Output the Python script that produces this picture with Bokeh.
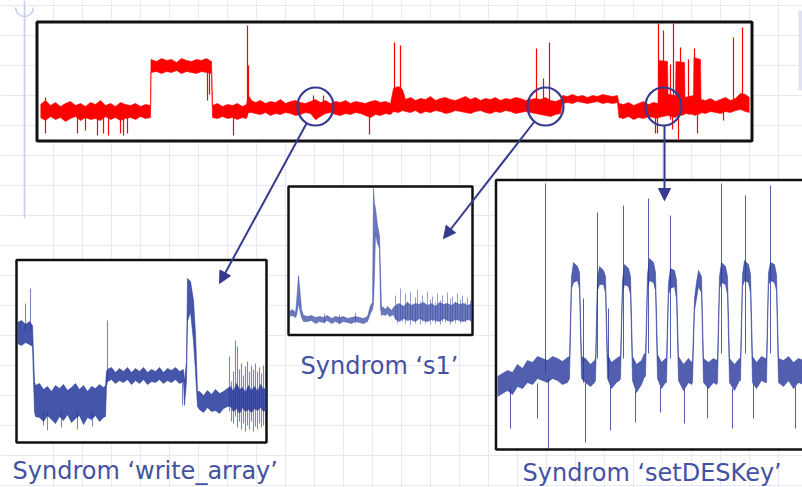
from bokeh.plotting import figure
from bokeh.models import Range1d, Arrow, NormalHead, Grid, FixedTicker
from bokeh.embed import file_html
from bokeh.resources import INLINE
from bokeh.core.properties import value

# ---------------- data (time in samples, level in arbitrary units) ----------------
# Overview trace (red) : noisy band envelope + isolated spikes
ov_t = [0,5,10,15,20,25,30,35,40,45,50,55,60,65,70,75,80,85,90,95,100,105,110,
        110.5,116,121,126,131,136,141,146,151,156,161,166,171,
        172,177,182,187,192,197,202,206, 208,211,
        215,220,225,230,235,240,245,250,255,260,265,270,275,280,285,290,295,300,305,310,315,320,325,330,335,340,345,350,
        353,358,362,
        365,370,375,380,385,390,395,400,405,410,415,420,425,430,435,440,445,450,455,460,465,470,475,480,485,490,
        495,500,505,510,515,520,
        522,527,532,537,542,547,552,557,562,567,572,577,
        578.5,583,588,593,598,603,608,613,617.5,
        618,627,627.5,635,635.5,644,644.5,653,653.5,660,
        660.5,665,670,675,680,685,690,695,700,705,709]
ov_hi = [35,39,34,37,33,36,38,34,36,33,37,35,39,34,36,33,37,35,34,36,33,35,34,
         80,78,81,79,80,77,81,79,78,80,79,81,78,
         34,36,33,35,34,36,33,35, 44,39,
         37,39,36,38,37,40,36,38,39,37,36,38,40,37,39,36,38,37,39,36,38,37,36,38,39,37,38,36,
         51,53,50,
         40,42,39,41,40,43,39,41,42,40,39,41,43,40,42,39,41,40,42,39,41,40,42,41,39,40,
         41,40,42,39,38,40,
         44,43,45,43,44,42,44,43,45,44,43,44,
         36,35,37,34,36,38,35,37,36,
         79,78,45,44,78,77,42,44,82,80,
         40,39,41,38,40,42,39,41,46,45,42]
ov_lo = [22,19,23,20,22,18,21,23,19,22,20,21,19,23,20,22,19,21,22,20,23,21,22,
         67,68,66,68,67,69,66,68,67,66,68,67,66,
         22,21,23,21,22,20,22,21, 27,27,
         26,25,27,24,26,25,27,26,24,25,27,26,20,23,26,27,25,24,26,25,27,26,24,22,25,24,26,25,
         28,27,29,
         28,27,29,26,28,27,29,28,26,27,29,28,27,26,28,29,27,26,28,27,29,28,26,27,28,27,
         26,25,24,23,25,26,
         36,37,36,38,37,36,37,38,36,37,36,37,
         22,21,23,20,22,21,23,22,21,
         22,24,24,22,23,25,26,25,24,26,
         27,26,28,27,26,28,27,29,30,28,27]
ov_spk_t  = [5,207,208,273,283,354,360,496,503,509,618,623,633,640,654,693,702,621,630,648,
             5,37,45,57,63,68,80,83,87,167,169,193,276,329,615,617,632,638,657,683]
ov_spk_lo = [30,30,30,32,32,40,40,36,36,36,60,60,40,60,60,40,40,30,20,25,
             6,6,9,4,6,4,6,4,6,39,45,4,20,5,6,6,10,0,6,19]
ov_spk_hi = [42,114,74,44,44,97,94,91,61,97,116,109,116,92,91,102,112,70,75,80,
             28,28,28,28,28,28,28,28,28,72,72,28,30,30,28,28,28,28,28,30]

# Syndrom 'write_array'
wa_t  = [0,4,8,12,15,17,18,22,26,30,34,38,42,46,50,54,58,62,66,70,74,78,82,86,88,89,
         90,94,98,102,106,110,114,118,122,126,130,134,138,142,146,150,154,158,162,166,
         167,169,170,173,176,178,180,182,186,190,194,198,202,206,210,
         213,216,219,222,225,228,231,234,237,240,243,246,249]
wa_hi = [119,121,117,120,116,60,56,58,52,55,50,56,53,57,51,54,58,52,56,50,55,53,57,54,56,70,
         72,74,69,73,70,74,69,73,70,74,69,72,70,74,69,73,71,74,70,72,
         60,80,163,160,141,108,50,50,46,51,47,52,48,50,53,
         55,50,58,52,54,49,56,51,55,50,57,52,54]
wa_lo = [98,96,99,97,95,30,25,24,20,26,22,18,25,21,27,19,23,26,17,24,22,26,20,24,25,55,
         60,62,58,61,59,62,57,61,58,62,57,60,59,62,58,61,59,62,58,60,
         36,60,120,130,100,70,35,32,29,34,30,31,28,33,35,
         35,30,33,28,34,30,32,29,33,31,34,30,32]
wa_spk_t  = [8,13,90,165,26,30,44,60,75,212,214,216,218,220,222,224,226,228,230,232,234,236,238,240,242,244,246,248]
wa_spk_lo = [110,110,60,36,16,11,14,12,15,30,20,18,25,14,20,12,18,10,16,12,20,10,15,12,18,14,16,20]
wa_spk_hi = [138,153,121,62,30,30,30,30,30,85,60,70,101,95,72,78,66,75,80,70,76,72,78,70,74,68,76,70]

# Syndrom 's1'
s1_t  = [0,3,6,7,9,10,12,14,18,22,26,30,34,38,42,46,50,54,58,62,66,70,74,78,
         81,83,84,85,86,88,90,91,92,94,96,98,100,102,104,
         106,110,114,118,122,126,130,134,138,142,146,150,154,158,162,166,170,174,178,182]
s1_hi = [22,24,21,30,58,48,24,18,17,18,16,17,16,18,15,17,16,17,15,16,17,16,15,17,
         28,31,145,130,125,108,98,60,27,26,24,27,25,23,26,
         28,30,27,31,28,30,29,31,28,30,27,31,29,30,28,31,29,30,28,30]
s1_lo = [17,18,16,18,30,25,16,12,12,13,10,12,11,13,10,12,10,12,11,10,12,11,10,12,
         20,24,30,60,100,90,85,25,18,19,18,20,17,18,19,
         14,12,15,13,14,12,15,13,12,14,13,12,15,13,12,14,13,12,14,13]
s1_spk_t  = [106,108,111,113,116,118,121,123,126,128,131,133,136,138,141,143,146,148,151,153,
             156,158,161,163,166,168,171,173,176,178,181,35,50,66]
s1_spk_lo = [15,10,14,12,10,15,8,12,10,14,9,12,10,13,9,12,10,14,9,12,
             11,13,9,12,10,14,10,12,11,13,12,10,9,10]
s1_spk_hi = [38,30,45,28,40,32,42,30,36,44,32,38,30,42,34,37,31,40,33,38,
             30,41,35,37,32,40,34,38,31,36,33,20,19,21]

# Syndrom 'setDESKey'
dk_t  = [0,5,10,15,20,25,30,35,40,45,50,55,60,65,70,
         72,74,76,80,82,84, 88,93,97,
         98,100,102,106,108,110, 114,119,122,
         123,125,127,131,133,135, 139,144,147,
         148,150,152,156,158,160, 164,168,
         169,171,173,177,179,181, 186,191,194,
         195,197,199,201,204,206, 211,216,219,
         220,222,224,228,230,232, 237,242,
         243,245,247,251,253,255, 259,264,268,
         269,271,273,277,279,281, 286,291,296,301,306]
dk_hi = [72,75,78,76,84,80,88,86,92,90,88,92,90,87,91,
         92,172,186,182,176,92, 90,84,88,
         90,170,182,178,172,94, 86,90,92,
         92,168,184,180,172,92, 84,88,95,
         94,174,190,186,176,94, 86,90,
         90,166,180,178,168,92, 84,90,86,
         88,150,166,178,172,90, 86,90,88,
         90,172,186,182,172,90, 84,90,
         90,174,188,184,174,92, 86,92,90,
         90,176,186,184,174,90, 88,92,86,90,88]
dk_lo = [52,55,58,54,62,60,66,64,70,68,66,70,68,64,66,
         70,160,166,168,160,70, 66,62,66,
         68,158,164,164,156,70, 60,66,68,
         70,156,164,162,154,68, 56,64,72,
         72,160,168,166,158,70, 60,66,
         66,154,160,162,150,68, 58,66,64,
         66,138,150,162,156,66, 60,66,64,
         66,160,166,164,154,66, 58,68,
         68,162,168,166,156,66, 60,68,66,
         66,164,168,166,158,66, 62,68,60,66,64]
dk_spk_t  = [48,100,126,151,173,224,248,273, 13,40,51,88,113,138,163,187,210,235,256,298, 86,111]
dk_spk_lo = [75,90,90,95,90,95,95,95, 20,30,0,6,18,26,36,25,30,20,30,20, 66,70]
dk_spk_hi = [265,236,243,250,233,265,253,263, 60,65,70,66,62,58,62,60,62,60,66,62, 150,140]

titles = ["Syndrom \u2018write_array\u2019", "Syndrom \u2018s1\u2019", "Syndrom \u2018setDESKey\u2019"]

# ---------------- layout / style ----------------
W, H = 802, 487
X0, Y0 = 0, 0
RED = "#ff0000"
NAVY = "#25379a"
ACC = "#363b8e"
TXT = "#4551a2"

p = figure(width=W, height=H, output_backend="svg", toolbar_location=None,
           x_range=Range1d(X0, X0 + W), y_range=Range1d(Y0 + H, Y0),
           x_axis_type=None, y_axis_type=None, min_border=0,
           outline_line_color=None, background_fill_color="white",
           border_fill_color="white")
p.min_border_left = p.min_border_right = p.min_border_top = p.min_border_bottom = 0

# faint graph-paper background
vt = list(range(53, 802, 29))
ht = list(range(5, 490, 30))
p.add_layout(Grid(dimension=0, ticker=FixedTicker(ticks=vt), grid_line_color="#e6e9f4", grid_line_width=1))
p.add_layout(Grid(dimension=1, ticker=FixedTicker(ticks=ht), grid_line_color="#e6e9f4", grid_line_width=1))
p.segment(x0=[24], y0=[0], x1=[24], y1=[218], line_color="#c9cdea", line_width=1.6)
p.bezier(x0=[15], y0=[7], x1=[33], y1=[7], cx0=[16], cy0=[19], cx1=[32], cy1=[19],
         line_color="#c9cdea", line_width=1.6)
p.quad(left=[798], right=[806], top=[10], bottom=[90], fill_color="#dfe2f3", line_color=None)

# panel frames: (left, right, top, bottom, line width), data origin (x, y)
panels = {
    "top": dict(box=(36.5, 751.5, 21.5, 140.5, 3), org=(40, 139)),
    "wa":  dict(box=(16, 266, 259.5, 442, 2.5), org=(17, 441)),
    "s1":  dict(box=(288, 472, 186, 334.5, 2.5), org=(289, 333)),
    "dk":  dict(box=(495.5, 830, 179.5, 449, 2.5), org=(497, 448)),
}
for name, d in panels.items():
    l, r, t, b, lw = d["box"]
    p.quad(left=[l], right=[r], top=[t], bottom=[b], fill_color="white",
           line_color="#111111", line_width=lw)
    ox, oy = d["org"]
    p.extra_x_ranges[name] = Range1d(X0 - ox, X0 + W - ox)
    p.extra_y_ranges[name] = Range1d(oy - (Y0 + H), oy - Y0)

def trace(name, t, hi, lo, st, slo, shi, color, alpha, slw, salpha):
    p.varea(x=t, y1=lo, y2=hi, fill_color=color, fill_alpha=alpha,
            x_range_name=name, y_range_name=name)
    p.line(x=t, y=hi, line_color=color, line_width=0.8, line_alpha=alpha * 0.8,
           x_range_name=name, y_range_name=name)
    p.line(x=t, y=lo, line_color=color, line_width=0.8, line_alpha=alpha * 0.8,
           x_range_name=name, y_range_name=name)
    p.segment(x0=st, y0=slo, x1=st, y1=shi, line_color=color, line_width=slw,
              line_alpha=salpha, x_range_name=name, y_range_name=name)

trace("top", ov_t, ov_hi, ov_lo, ov_spk_t, ov_spk_lo, ov_spk_hi, RED, 1.0, 1.2, 1.0)
trace("wa", wa_t, wa_hi, wa_lo, wa_spk_t, wa_spk_lo, wa_spk_hi, NAVY, 0.85, 1.1, 0.6)
trace("s1", s1_t, s1_hi, s1_lo, s1_spk_t, s1_spk_lo, s1_spk_hi, "#3a4ca6", 0.75, 0.9, 0.6)
trace("dk", dk_t, dk_hi, dk_lo, dk_spk_t, dk_spk_lo, dk_spk_hi, NAVY, 0.8, 1.0, 0.8)

# zoom circles and arrows
p.ellipse(x=[315, 545, 663], y=[106, 106, 106], width=36, height=38,
          fill_color=None, line_color=ACC, line_width=2.2)
for xs, ys, xe, ye in [(306, 123, 219, 283), (534, 121, 443, 238), (664, 125, 664, 200)]:
    p.add_layout(Arrow(end=NormalHead(size=12, fill_color=ACC, line_color=ACC),
                       x_start=xs, y_start=ys, x_end=xe, y_end=ye,
                       line_color=ACC, line_width=2))

# captions
p.text(x=[12, 300, 522], y=[470, 365, 472], text=titles, text_color=TXT,
       text_font=value("DejaVu Sans"), text_font_size="24px",
       text_baseline="alphabetic", text_align="left")

open("out.html", "w").write(file_html(p, INLINE))
